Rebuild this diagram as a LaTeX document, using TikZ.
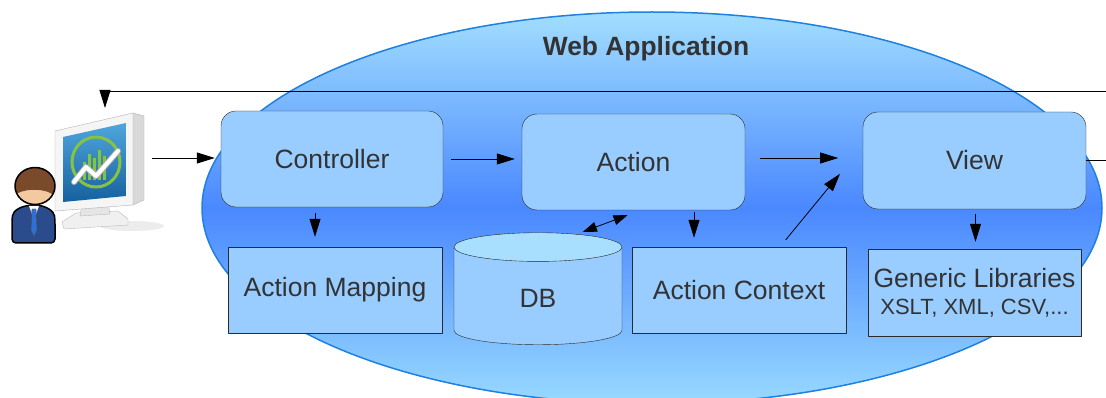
\documentclass[tikz,border=0pt]{standalone}
\usepackage{fontspec}
\setmainfont{Liberation Sans}
\usetikzlibrary{arrows.meta,shapes.geometric}

\definecolor{apptop}{HTML}{A2DEFF}
\definecolor{appmid}{HTML}{4A88FF}
\definecolor{appbot}{HTML}{98DAFF}
\definecolor{appline}{HTML}{1E80E0}
\definecolor{boxfill}{HTML}{99CCFF}
\definecolor{boxline}{HTML}{2A2A2A}
\definecolor{dbtop}{HTML}{A8DFFF}
\definecolor{txt}{HTML}{333333}
\definecolor{hair}{HTML}{7A4A2A}
\definecolor{skin}{HTML}{F3C9A0}
\definecolor{suit}{HTML}{2B4C8C}
\definecolor{tie}{HTML}{2F6FD6}
\definecolor{scrdark}{HTML}{16609F}
\definecolor{scrlight}{HTML}{4FA6DC}
\definecolor{chart}{HTML}{86C440}

\begin{document}
\begin{tikzpicture}[x=1pt, y=-1pt, line join=round,
  >={Triangle[length=18pt,width=11pt]},
  block/.style={draw=boxline, fill=boxfill, rounded corners=15pt, text=txt,
    minimum width=222pt, minimum height=96pt, font=\fontsize{26.5}{28}\selectfont},
  part/.style={draw=boxline, fill=boxfill, text=txt, align=center, inner sep=2pt,
    minimum width=214pt, minimum height=86pt, font=\fontsize{26.5}{27}\selectfont},
  flow/.style={->, line width=0.8pt}]

  \useasboundingbox (0,0) rectangle (1106,398);
  \clip (0,0) rectangle (1106,398);

  % the web application
  \draw[appline, line width=1.5pt, top color=apptop, bottom color=appbot, middle color=appmid]
    (652,208) ellipse (450 and 196);
  \node[font=\bfseries\fontsize{26.4}{30}\selectfont, text=txt] (title) at (646,49) {Web Application};

  % monitor
  \fill[gray!25, opacity=.6] (132,226) ellipse (32 and 5);
  \filldraw[fill=gray!12, draw=gray!55] (62,222) -- (76,213) -- (118,211) -- (128,219)
    -- (128,225) -- (64,229) -- cycle;
  \filldraw[fill=gray!20, draw=gray!55] (82,204) -- (108,202) -- (110,214) -- (80,216) -- cycle;
  \filldraw[fill=gray!30, draw=gray!60] (133,113) -- (144,116) -- (144,200) -- (133,205) -- cycle;
  \filldraw[fill=gray!8, draw=gray!60] (55,131) -- (133,113) -- (133,205) -- (55,211) -- cycle;
  \shade[top color=scrlight, bottom color=scrdark] (63,137) -- (126,123) -- (126,196) -- (63,202) -- cycle;
  \foreach \x/\h in {84/18, 89/26, 94/22, 99/30, 104/24}
    \draw[chart, line width=3pt] (\x,180) -- ++(0,-\h);
  \draw[chart, line width=3pt] (96,162) ellipse (24 and 25);
  \draw[gray!60, line width=6pt, line cap=round] (74,182) -- (86,167) -- (96,176) -- (118,151);
  \draw[white, line width=4pt, line cap=round] (74,182) -- (86,167) -- (96,176) -- (118,151);
  \coordinate (pc) at (105,121);
  \coordinate (pcout) at (144,158);

  % user
  \filldraw[fill=suit, draw=black, line width=1.5pt, rounded corners=4pt]
    (12,243) -- (12,220) .. controls (13,210) and (22,206) .. (34,205)
    .. controls (46,206) and (54,211) .. (55,220) -- (55,243) -- cycle;
  \fill[white] (29,206) -- (39,206) -- (36,214) -- (32,214) -- cycle;
  \filldraw[fill=tie, draw=black!70] (32,209) -- (36,209) -- (37,230) -- (34,237) -- (31,230) -- cycle;
  \fill[skin] (35,186) ellipse (20 and 18.5);
  \begin{scope}
    \clip (35,186) ellipse (20 and 18.5);
    \fill[hair] (10,160) -- (62,160) -- (62,196) -- (52,194) .. controls (45,189) and (28,188) .. (18,193)
      -- (10,196) -- cycle;
  \end{scope}
  \draw[black, line width=1.5pt] (35,186) ellipse (20 and 18.5);

  % components
  \node[block] (ctrl) at (332,159) {Controller};
  \node[block, minimum width=223pt] (action) at (633.5,162) {Action};
  \node[block, minimum width=223pt, minimum height=97pt] (view) at (974.5,160.5) {View};

  \node[part] (amap) at (335,290) {Action Mapping};
  \node[cylinder, shape border rotate=90, draw=boxline, cylinder uses custom fill,
    cylinder body fill=boxfill, cylinder end fill=dbtop, aspect=0.66, text=txt,
    minimum width=168pt, minimum height=112pt, font=\fontsize{26.5}{28}\selectfont] (db) at (538,298) {DB};
  \node[part] (actx) at (739,290) {Action Context};
  \node[part, minimum width=213pt, minimum height=87pt] (libs) at (974.5,292.5)
    {Generic Libraries\\{\fontsize{22}{24}\selectfont XSLT, XML, CSV,...}};

  % request flow
  \draw[flow, shorten <=8pt, shorten >=6pt] (pcout) -- (pcout -| ctrl.west);
  \draw[flow, shorten <=8pt, shorten >=7pt] (ctrl.east) -- (ctrl.east -| action.west);
  \draw[flow, shorten <=15pt] ([yshift=4pt]action.east) -- ++(93,0);
  \draw[flow, shorten <=9pt] ([xshift=41pt]actx.north) -- ++(60,-73);

  \draw[flow, shorten <=6pt, shorten >=10pt] ([xshift=-20pt]amap.north |- ctrl.south) -- ([xshift=-20pt]amap.north);
  \draw[flow, shorten <=2pt, shorten >=9pt] ([xshift=-45pt]actx.north |- action.south) -- ([xshift=-45pt]actx.north);
  \draw[flow, shorten <=5pt, shorten >=7pt] ([xshift=1pt]libs.north |- view.south) -- ([xshift=1pt]libs.north);
  \draw[flow, <->, >={Triangle[length=14pt,width=10pt]}, shorten <=2pt]
    ([xshift=43pt]db.north) -- ([xshift=-6pt,yshift=-5pt]action.south);

  % response back to the browser
  \coordinate (loop) at (1130,91);
  \draw[flow, shorten >=13pt] (view.east) -| (loop) -- (pc |- loop) -- (pc);
\end{tikzpicture}
\end{document}
